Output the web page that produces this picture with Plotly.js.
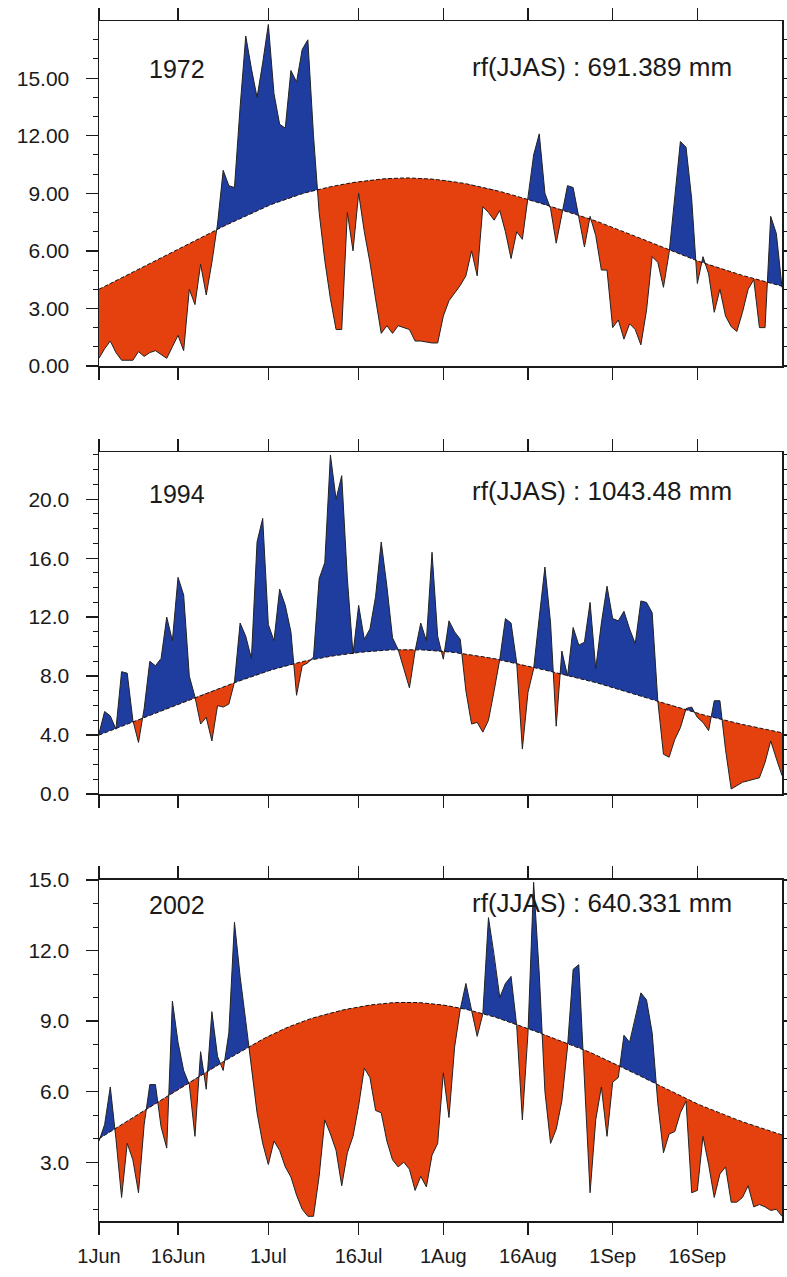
<!DOCTYPE html>
<html>
<head>
<meta charset="utf-8">
<script src="https://cdn.plot.ly/plotly-3.0.1.min.js"></script>
<style>html,body{margin:0;padding:0;background:#fff;}</style>
</head>
<body>
<div id="chart" style="width:787px;height:1277px;"></div>
<script>
// ---- data (day index 0 = 1 Jun ... 121 = 30 Sep) ----
const dayIndex = Array.from({length: 122}, (_, i) => i);

const climatology = [
  4.00,4.15,4.30,4.45,4.60,4.75,4.90,5.05,5.20,5.35,
  5.50,5.65,5.80,5.95,6.10,6.25,6.40,6.55,6.70,6.84,
  6.98,7.12,7.27,7.41,7.55,7.69,7.83,7.97,8.10,8.23,
  8.35,8.47,8.58,8.69,8.79,8.89,8.98,9.06,9.14,9.21,
  9.28,9.34,9.40,9.46,9.51,9.56,9.60,9.64,9.68,9.71,
  9.74,9.76,9.78,9.79,9.80,9.80,9.79,9.78,9.76,9.74,
  9.71,9.68,9.64,9.60,9.55,9.50,9.44,9.38,9.32,9.25,
  9.18,9.10,9.02,8.94,8.86,8.77,8.68,8.59,8.50,8.41,
  8.32,8.23,8.14,8.05,7.96,7.87,7.78,7.67,7.56,7.45,
  7.34,7.23,7.12,7.00,6.89,6.77,6.65,6.53,6.41,6.29,
  6.17,6.05,5.93,5.81,5.70,5.59,5.48,5.38,5.28,5.18,
  5.08,4.99,4.90,4.81,4.72,4.64,4.56,4.48,4.40,4.32,
  4.24,4.16
];

const rain1972 = [
  0.4,0.9,1.3,0.7,0.3,0.3,0.3,0.75,0.5,0.7,
  0.8,0.6,0.4,1.0,1.6,0.8,4.0,3.2,5.3,3.7,
  5.4,7.4,10.2,9.4,9.3,13.5,17.2,15.5,14.0,15.8,
  17.8,14.2,12.6,12.4,15.4,14.8,16.5,17.0,12.0,8.0,
  5.5,3.5,1.9,1.9,8.0,6.0,9.0,7.0,5.4,3.5,
  1.7,2.1,1.7,2.1,2.0,1.9,1.3,1.3,1.25,1.2,
  1.2,2.6,3.4,3.8,4.2,4.7,6.0,4.7,8.3,8.0,
  7.6,8.1,7.0,5.6,7.0,6.6,8.7,11.0,12.1,9.0,
  8.2,6.4,7.9,9.4,9.3,7.8,6.2,7.8,6.8,5.0,
  5.0,2.0,2.4,1.4,2.2,1.9,1.1,2.9,5.7,5.4,
  4.1,5.9,8.7,11.7,11.4,8.7,4.3,5.7,4.8,2.8,
  4.0,2.6,2.05,1.8,2.8,4.0,4.5,2.0,2.0,7.8,
  6.9,4.1
];

const rain1994 = [
  4.1,5.6,5.3,4.4,8.3,8.2,5.0,3.5,5.8,9.0,
  8.7,9.2,12.0,10.4,14.7,13.5,8.0,6.6,4.75,5.2,
  3.6,6.0,5.9,6.1,7.6,11.6,10.7,9.2,17.1,18.7,
  11.5,10.4,13.9,12.8,11.0,6.7,8.7,8.9,9.3,14.6,
  15.7,23.0,20.0,21.6,14.6,9.5,12.8,10.5,11.2,13.4,
  17.1,14.1,10.6,9.8,8.5,7.2,9.7,11.6,10.4,16.4,
  10.7,9.15,11.75,11.0,10.5,7.0,4.75,4.86,4.2,5.0,
  7.0,9.15,11.9,11.6,8.9,3.05,6.9,8.5,12.0,15.4,
  11.6,4.6,9.7,8.0,11.3,10.1,10.3,13.0,8.5,11.6,
  14.1,11.9,11.75,12.4,11.2,10.2,13.1,13.0,12.3,6.3,
  2.7,2.5,3.7,4.5,5.8,5.9,5.2,4.86,4.3,6.33,
  6.33,3.0,0.34,0.56,0.8,0.9,1.0,1.1,2.15,3.6,
  2.4,1.25
];

const rain2002 = [
  3.9,4.6,6.2,4.0,1.5,3.8,3.1,1.7,4.6,6.3,
  6.3,4.5,3.6,9.85,8.1,6.9,6.3,4.1,7.7,6.1,
  9.4,7.5,6.9,8.5,13.2,10.9,9.0,7.0,5.1,3.8,
  2.9,3.9,3.5,2.8,2.37,1.6,1.0,0.7,0.7,2.4,
  4.8,4.2,3.5,2.0,3.4,4.1,5.4,7.0,6.6,5.2,
  5.1,3.9,3.1,2.8,3.0,2.7,1.8,2.4,1.95,3.3,
  3.8,6.8,4.9,7.9,9.5,10.6,9.4,8.35,9.3,13.4,
  11.8,10.0,10.6,10.9,8.8,4.8,8.5,14.9,11.0,6.0,
  3.8,4.4,5.6,7.9,11.2,11.4,6.5,1.7,4.8,6.2,
  4.1,6.4,6.6,8.4,8.1,9.1,10.2,9.9,8.5,5.5,
  3.4,4.2,4.3,5.1,5.6,1.7,1.8,4.1,2.9,1.5,
  2.5,2.8,1.3,1.3,1.5,2.0,1.1,1.2,1.1,0.95,
  1.0,0.7
];

const years = ['1972', '1994', '2002'];
const seasonTotals = ['691.389', '1043.48', '640.331'];
const xTickVals = [0, 14, 30, 46, 61, 76, 91, 106];
const xTickText = ['1Jun', '16Jun', '1Jul', '16Jul', '1Aug', '16Aug', '1Sep', '16Sep'];

// ---- styling ----
const BLUE = '#1f3d9e';
const RED = '#e4410f';
const INK = '#1a1a1a';
const FONT = 'Liberation Sans, Arial, sans-serif';

// insert crossing points so the above/below fills meet the climatology exactly
function augment(x, r, c) {
  const X = [], R = [], C = [];
  for (let i = 0; i < x.length; i++) {
    if (i > 0) {
      const d0 = r[i-1] - c[i-1], d1 = r[i] - c[i];
      if (d0 * d1 < 0) {
        const t = d0 / (d0 - d1);
        const xc = x[i-1] + t * (x[i] - x[i-1]);
        const yc = c[i-1] + t * (c[i] - c[i-1]);
        X.push(xc); R.push(yc); C.push(yc);
      }
    }
    X.push(x[i]); R.push(r[i]); C.push(c[i]);
  }
  return {X, R, C};
}

const series = [rain1972, rain1994, rain2002];
const traces = [];
series.forEach((rain, k) => {
  const xa = k === 0 ? 'x' : 'x' + (k + 1);
  const ya = k === 0 ? 'y' : 'y' + (k + 1);
  const a = augment(dayIndex, rain, climatology);
  const upper = a.R.map((v, i) => Math.max(v, a.C[i]));
  const lower = a.R.map((v, i) => Math.min(v, a.C[i]));
  const base = {mode: 'lines', xaxis: xa, yaxis: ya, hoverinfo: 'skip', showlegend: false};
  traces.push(Object.assign({}, base, {x: a.X, y: a.C, line: {width: 0}}));
  traces.push(Object.assign({}, base, {x: a.X, y: upper, line: {width: 0}, fill: 'tonexty', fillcolor: BLUE}));
  traces.push(Object.assign({}, base, {x: a.X, y: a.C, line: {width: 0}}));
  traces.push(Object.assign({}, base, {x: a.X, y: lower, line: {width: 0}, fill: 'tonexty', fillcolor: RED}));
  traces.push(Object.assign({}, base, {x: dayIndex, y: rain, line: {color: '#222', width: 1}}));
  traces.push(Object.assign({}, base, {x: dayIndex, y: climatology, line: {color: '#111', width: 1, dash: '4px,2px'}}));
});

function xAxis(anchor, labels) {
  return {
    anchor: anchor, domain: [0, 1], range: [0, 121],
    showgrid: false, zeroline: false,
    showline: true, linecolor: INK, linewidth: 1.5, mirror: 'ticks',
    ticks: 'outside', ticklen: 12, tickwidth: 1.3, tickcolor: INK,
    tickmode: 'array', tickvals: xTickVals, ticktext: xTickText,
    showticklabels: labels, ticklabelstandoff: 4,
    tickfont: {size: 20, color: INK, family: FONT}
  };
}
function yAxis(anchor, domain, range, dtick, fmt) {
  return {
    anchor: anchor, domain: domain, range: range,
    showgrid: false, zeroline: false,
    showline: true, linecolor: INK, linewidth: 1.5, mirror: 'ticks',
    ticks: 'outside', ticklen: 12, tickwidth: 1.3, tickcolor: INK,
    tickmode: 'linear', tick0: 0, dtick: dtick, tickformat: fmt,
    ticklabelstandoff: 12,
    minor: {dtick: 1, tick0: 0, ticks: 'outside', ticklen: 5, tickwidth: 1, tickcolor: INK, showgrid: false},
    tickfont: {size: 21, color: INK, family: FONT}
  };
}

const yearFont = {size: 25, color: INK, family: FONT};
const rfFont = {size: 26, color: INK, family: FONT};
const yearY = [0.960, 0.606, 0.263];
const annotations = [];
years.forEach((yr, k) => {
  annotations.push({text: yr, xref: 'paper', yref: 'paper', x: 0.071, y: yearY[k],
    xanchor: 'left', yanchor: 'middle', showarrow: false, font: yearFont});
  annotations.push({text: 'rf(JJAS) : ' + seasonTotals[k] + ' mm', xref: 'paper', yref: 'paper',
    x: 0.930, y: yearY[k] + 0.002, xanchor: 'right', yanchor: 'middle', showarrow: false, font: rfFont});
});

const layout = {
  width: 787, height: 1277,
  margin: {l: 99, r: 5, t: 21, b: 56},
  paper_bgcolor: '#fff', plot_bgcolor: '#fff',
  showlegend: false,
  font: {family: FONT, color: INK},
  xaxis: xAxis('y', false),
  xaxis2: xAxis('y2', false),
  xaxis3: xAxis('y3', true),
  yaxis: yAxis('x', [0.7125, 1], [0, 17.98], 3, '.2f'),
  yaxis2: yAxis('x2', [0.3558, 0.6408], [0, 23.2], 4, '.1f'),
  yaxis3: yAxis('x3', [0, 0.2842], [0.5, 15], 3, '.1f'),
  annotations: annotations
};

Plotly.newPlot('chart', traces, layout, {staticPlot: true, displayModeBar: false});
</script>
</body>
</html>
